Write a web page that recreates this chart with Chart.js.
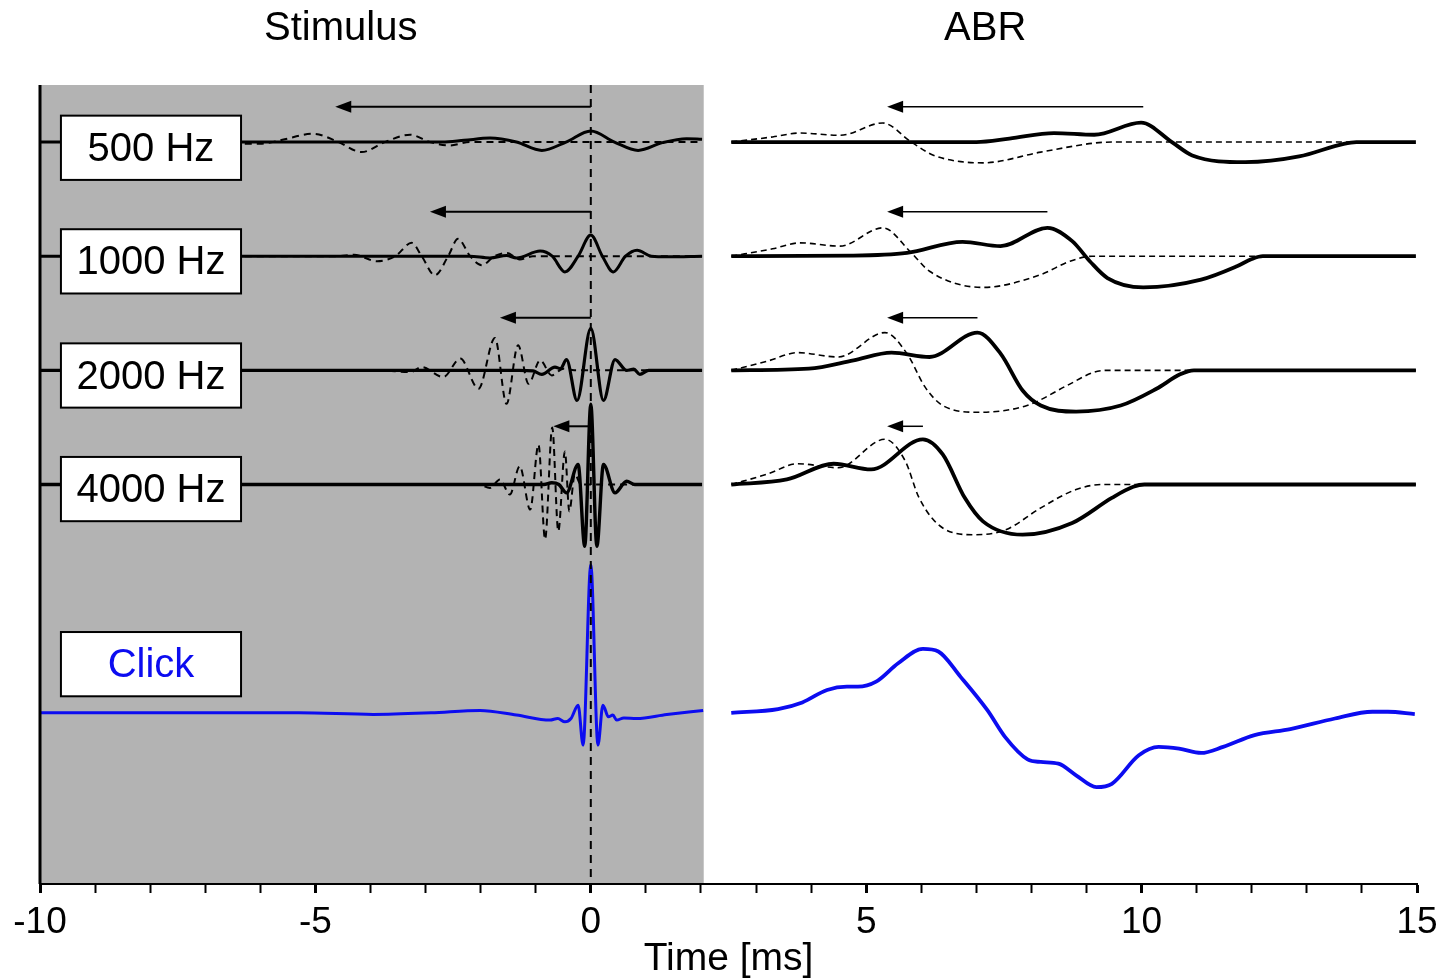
<!DOCTYPE html>
<html lang="en">
<head>
<meta charset="UTF-8">
<title>Stimulus and ABR</title>
<script src="https://cdn.jsdelivr.net/npm/chart.js"></script>
<style>
    body { margin: 0; background: #fff; }
    canvas { display: block; }
</style>
</head>
<body>
<canvas id="abrChart" width="1444" height="979"></canvas>
<script>
// rows, top to bottom
var traceLabels = ['500 Hz', '1000 Hz', '2000 Hz', '4000 Hz', 'Click'];
var baselines = [65, 55, 45, 35, 15];

// stimulus waveforms: time [ms] and amplitude (solid = tone burst, dashed = shifted)
var stimTime500 = [-10, -2.7, -2.3, -1.83, -1.35, -0.89, -0.45, 0, 0.43, 0.86, 1.3, 1.74, 2.02];
var stim500 = [0, 0, 0.15, 0.35, 0, -0.73, 0, 0.97, 0, -0.73, -0.05, 0.3, 0.25];
var stimTime1000 = [-10, -2.2, -1.83, -1.53, -1.35, -0.92, -0.7, -0.47, -0.23, 0, 0.21, 0.41, 0.63, 0.84, 1.1, 1.4, 2.02];
var stim1000 = [0, 0, -0.15, 0.06, -0.15, 0.45, 0, -1.38, 0, 1.85, 0, -1.38, 0, 0.53, 0, -0.05, 0];
var stimTime2000 = [-10, -1.3, -1.05, -0.89, -0.65, -0.55, -0.44, -0.25, 0, 0.23, 0.44, 0.65, 0.78, 0.89, 1.05, 2.02];
var stim2000 = [0, 0, -0.05, -0.35, 0.29, 0.15, 0.94, -2.64, 3.67, -2.64, 0.94, 0, 0.1, -0.35, 0, 0];
var stimTime4000 = [-10, -0.85, -0.71, -0.58, -0.44, -0.23, -0.11, 0, 0.11, 0.23, 0.44, 0.65, 0.8, 2.02];
var stim4000 = [0, 0, 0.15, 0, -0.73, 1.76, -5.42, 7.03, -5.42, 1.76, -0.73, 0.29, 0, 0];

var stimShiftTime500 = [-6.5, -6.0, -5.6, -5.04, -4.58, -4.16, -3.74, -3.28, -2.92, -2.56, -2.2, 2.02];
var stimShift500 = [-0.15, -0.15, 0.2, 0.73, 0, -0.88, 0, 0.64, 0, -0.3, 0, 0];
var stimShiftTime1000 = [-6.5, -4.6, -4.3, -3.88, -3.55, -3.25, -3.07, -2.83, -2.59, -2.41, -2.19, -1.98, -1.75, -1.52, -1.29, -1.05, 2.02];
var stimShift1000 = [0, 0, 0.12, -0.44, 0, 1.17, 0, -1.67, 0, 1.52, 0, -0.79, 0, 0.29, -0.29, 0, 0];
var stimShiftTime2000 = [-6.5, -3.83, -3.28, -3.07, -2.68, -2.37, -2.04, -1.74, -1.53, -1.32, -1.13, -0.92, -0.71, -0.5, -0.3, 2.02];
var stimShift2000 = [0, 0, -0.15, 0.29, -0.59, 1.03, -1.61, 2.84, -2.93, 2.2, -1.17, 0.88, -0.44, 0.15, 0, 0];
var stimShiftTime4000 = [-6.5, -2.05, -1.83, -1.65, -1.47, -1.29, -1.1, -0.95, -0.83, -0.7, -0.59, -0.47, -0.39, -0.29, -0.18, 2.02];
var stimShift4000 = [0, 0, -0.3, 0.44, -0.88, 1.6, -2.2, 3.5, -4.8, 5.0, -4.1, 2.9, -2.35, 0.9, 0, 0];

var clickTime = [-10, -5.3, -3.95, -2.9, -2.01, -1.35, -0.74, -0.6, -0.47, -0.36, -0.23, -0.14, 0, 0.13, 0.22, 0.32, 0.4, 0.47, 0.6, 0.83, 1.38, 2.04];
var click = [0, 0, -0.14, 0, 0.21, -0.2, -0.64, -0.5, -0.79, -0.5, 0.67, -2.84, 12.97, -2.84, 0.67, -0.35, -0.2, -0.64, -0.45, -0.5, -0.15, 0.21];

// ABR waveforms
var abrTime500 = [2.55, 7.0, 7.6, 8.41, 9.14, 9.99, 10.55, 10.92, 11.88, 12.86, 13.67, 13.9, 14.98];
var abr500 = [0, 0, 0.3, 0.79, 0.64, 1.7, 0, -1.17, -1.76, -1.26, -0.15, 0, 0];
var abrTime1000 = [2.55, 4.77, 5.74, 6.75, 7.44, 8.29, 8.74, 9.06, 9.38, 10.03, 11.08, 11.73, 12.0, 12.2, 14.98];
var abr1000 = [0, 0.05, 0.29, 1.26, 0.88, 2.49, 1.32, -0.44, -1.91, -2.73, -2.05, -0.88, -0.25, 0, 0];
var abrTime2000 = [2.55, 3.96, 4.77, 5.46, 6.15, 7.02, 7.44, 7.84, 8.17, 8.81, 9.62, 10.27, 10.7, 10.95, 14.98];
var abr2000 = [0, 0.15, 0.88, 1.55, 1.17, 3.31, 1.47, -1.76, -3.08, -3.61, -3.08, -1.61, -0.35, 0, 0];
var abrTime4000 = [2.55, 3.56, 4.41, 5.09, 6.03, 6.39, 6.79, 7.12, 7.84, 8.74, 9.46, 9.85, 10.05, 14.98];
var abr4000 = [0, 0.44, 1.82, 1.32, 3.96, 2.64, -1.17, -3.23, -4.4, -3.37, -1.17, -0.2, 0, 0];

var abrShiftTime500 = [2.55, 3.3, 3.8, 4.52, 5.3, 5.82, 6.23, 7.12, 8.17, 9.14, 9.46, 14.98];
var abrShift500 = [0, 0.45, 0.79, 0.59, 1.67, 0, -1.17, -1.82, -0.88, -0.09, 0, 0];
var abrShiftTime1000 = [2.55, 3.3, 3.8, 4.52, 5.3, 5.82, 6.15, 7.12, 8.17, 8.7, 9.1, 14.98];
var abrShift1000 = [0, 0.65, 1.17, 0.88, 2.49, 0.29, -1.32, -2.73, -1.61, -0.44, 0, 0];
var abrShiftTime2000 = [2.55, 3.2, 3.76, 4.49, 5.34, 5.74, 6.07, 6.39, 7.03, 7.92, 8.65, 9.14, 9.38, 14.98];
var abrShift2000 = [0, 0.8, 1.55, 1.17, 3.31, 1.47, -1.47, -3.08, -3.67, -3.08, -1.32, -0.15, 0, 0];
var abrShiftTime4000 = [2.55, 3.2, 3.76, 4.49, 5.34, 5.71, 5.96, 6.39, 6.95, 7.52, 8.17, 8.81, 9.3, 14.98];
var abrShift4000 = [0, 0.9, 1.82, 1.47, 3.96, 2.05, -1.17, -3.81, -4.4, -4.0, -2.05, -0.44, 0, 0];

var abrClickTime = [2.55, 3.4, 3.84, 4.29, 4.65, 4.85, 5.18, 5.58, 6.03, 6.31, 6.71, 7.2, 7.52, 7.93, 8.17, 8.49, 8.81, 9.18, 9.46, 9.95, 10.31, 10.68, 11.08, 11.48, 12.05, 12.7, 13.51, 14.19, 14.47, 14.96];
var abrClick = [0, 0.33, 0.91, 2.0, 2.29, 2.29, 2.73, 4.34, 5.6, 5.37, 3.17, 0.23, -2.11, -4.08, -4.31, -4.46, -5.48, -6.51, -6.22, -3.72, -2.99, -3.14, -3.52, -2.99, -1.96, -1.43, -0.5, 0.09, 0.09, -0.12];

// latency shift arrows (ms)
var arrowLevels = [68.1, 58.9, 49.6, 40.1];
var stimArrowHeads = [-4.64, -2.92, -1.65, -0.68];
var abrArrowTails = [10.03, 8.29, 7.02, 6.03];
var abrArrowHead = 5.38;

var xTicksMajor = [-10, -5, 0, 5, 10, 15];
var shadeEnd = 2.05;
var labelBoxLevels = [64.5, 54.55, 44.55, 34.6, 19.26];

var BLUE = '#0c0cf0';
var FONT = '"Liberation Sans", Arial, sans-serif';

function trace(times, values, row, color, width, dash) {
    return {
        data: times.map(function(t, i) { return { x: t, y: baselines[row] + values[i] }; }),
        borderColor: color,
        borderWidth: width,
        borderDash: dash || [],
        pointRadius: 0,
        fill: false,
        cubicInterpolationMode: 'monotone'
    };
}

var datasets = [
    trace(stimShiftTime500, stimShift500, 0, '#000', 2, [7, 5]),
    trace(stimShiftTime1000, stimShift1000, 1, '#000', 2, [7, 5]),
    trace(stimShiftTime2000, stimShift2000, 2, '#000', 2, [7, 5]),
    trace(stimShiftTime4000, stimShift4000, 3, '#000', 2, [7, 5]),
    trace(stimTime500, stim500, 0, '#000', 3),
    trace(stimTime1000, stim1000, 1, '#000', 3),
    trace(stimTime2000, stim2000, 2, '#000', 3.2),
    trace(stimTime4000, stim4000, 3, '#000', 3.4),
    trace(clickTime, click, 4, BLUE, 3),
    trace(abrShiftTime500, abrShift500, 0, '#000', 1.6, [6, 4]),
    trace(abrShiftTime1000, abrShift1000, 1, '#000', 1.6, [6, 4]),
    trace(abrShiftTime2000, abrShift2000, 2, '#000', 1.6, [6, 4]),
    trace(abrShiftTime4000, abrShift4000, 3, '#000', 1.6, [6, 4]),
    trace(abrTime500, abr500, 0, '#000', 3.8),
    trace(abrTime1000, abr1000, 1, '#000', 3.8),
    trace(abrTime2000, abr2000, 2, '#000', 3.8),
    trace(abrTime4000, abr4000, 3, '#000', 3.8),
    trace(abrClickTime, abrClick, 4, BLUE, 3.8)
];

function arrow(ctx, xTail, xHead, y, width) {
    ctx.lineWidth = width;
    ctx.beginPath();
    ctx.moveTo(xTail, y);
    ctx.lineTo(xHead + 10, y);
    ctx.stroke();
    ctx.beginPath();
    ctx.moveTo(xHead, y);
    ctx.lineTo(xHead + 16, y - 6);
    ctx.lineTo(xHead + 16, y + 6);
    ctx.closePath();
    ctx.fill();
}

var decorations = {
    id: 'decorations',
    beforeDraw: function(chart) {
        var ctx = chart.ctx, a = chart.chartArea, x = chart.scales.x;
        ctx.save();
        ctx.fillStyle = '#fff';
        ctx.fillRect(0, 0, chart.width, chart.height);
        var x0 = x.getPixelForValue(-10);
        ctx.fillStyle = '#b3b3b3';
        ctx.fillRect(x0, a.top, x.getPixelForValue(shadeEnd) - x0, a.bottom - a.top);
        ctx.restore();
    },
    afterDatasetsDraw: function(chart) {
        var ctx = chart.ctx, a = chart.chartArea, x = chart.scales.x, y = chart.scales.y;
        ctx.save();

        // onset line at 0 ms
        ctx.strokeStyle = '#000';
        ctx.lineWidth = 2;
        ctx.setLineDash([8, 6]);
        ctx.beginPath();
        ctx.moveTo(x.getPixelForValue(0), a.top);
        ctx.lineTo(x.getPixelForValue(0), a.bottom);
        ctx.stroke();
        ctx.setLineDash([]);

        // arrows
        ctx.fillStyle = '#000';
        arrowLevels.forEach(function(level, i) {
            var py = y.getPixelForValue(level);
            arrow(ctx, x.getPixelForValue(0), x.getPixelForValue(stimArrowHeads[i]), py, 2);
            arrow(ctx, x.getPixelForValue(abrArrowTails[i]), x.getPixelForValue(abrArrowHead), py, 1.5);
        });

        // label boxes
        var bx0 = x.getPixelForValue(-9.62), bx1 = x.getPixelForValue(-6.35);
        var bh = y.getPixelForValue(0) - y.getPixelForValue(5.63);
        ctx.font = '40px ' + FONT;
        ctx.textAlign = 'center';
        ctx.textBaseline = 'middle';
        traceLabels.forEach(function(label, i) {
            var cy = y.getPixelForValue(labelBoxLevels[i]);
            ctx.fillStyle = '#fff';
            ctx.fillRect(bx0, cy - bh / 2, bx1 - bx0, bh);
            ctx.strokeStyle = '#000';
            ctx.lineWidth = 2;
            ctx.strokeRect(bx0, cy - bh / 2, bx1 - bx0, bh);
            ctx.fillStyle = label === 'Click' ? BLUE : '#000';
            ctx.fillText(label, (bx0 + bx1) / 2, cy + 2);
        });

        // left axis line
        ctx.strokeStyle = '#000';
        ctx.lineWidth = 3;
        ctx.beginPath();
        ctx.moveTo(a.left, a.top);
        ctx.lineTo(a.left, a.bottom);
        ctx.stroke();

        // panel titles
        ctx.fillStyle = '#000';
        ctx.font = '40px ' + FONT;
        ctx.fillText('Stimulus', x.getPixelForValue(-4.54), a.top - 56);
        ctx.fillText('ABR', x.getPixelForValue(7.16), a.top - 56);
        ctx.restore();
    }
};

var ctx = document.getElementById('abrChart').getContext('2d');
var chart = new Chart(ctx, {
    type: 'line',
    data: { datasets: datasets },
    options: {
        responsive: false,
        animation: false,
        devicePixelRatio: 1,
        layout: { padding: { left: 40, right: 27, top: 85, bottom: 0 } },
        plugins: {
            legend: { display: false },
            tooltip: { enabled: false }
        },
        scales: {
            x: {
                type: 'linear',
                min: -10,
                max: 15,
                afterFit: function(scale) {
                    scale.paddingLeft = 0;
                    scale.paddingRight = 0;
                },
                border: { display: true, color: '#000', width: 2 },
                grid: {
                    drawOnChartArea: false,
                    drawTicks: true,
                    tickLength: 9,
                    color: '#000',
                    tickWidth: function(c) { return xTicksMajor.indexOf(c.tick.value) >= 0 ? 3 : 2; }
                },
                ticks: {
                    stepSize: 1,
                    autoSkip: false,
                    maxRotation: 0,
                    padding: 11,
                    color: '#000',
                    font: { family: FONT, size: 37, lineHeight: 1 },
                    callback: function(v) { return xTicksMajor.indexOf(v) >= 0 ? String(v) : ''; }
                },
                title: {
                    display: true,
                    text: 'Time [ms]',
                    color: '#000',
                    font: { family: FONT, size: 39, lineHeight: 1 },
                    padding: { top: -12, bottom: 0 }
                }
            },
            y: {
                type: 'linear',
                min: 0,
                max: 70,
                display: false
            }
        }
    },
    plugins: [decorations]
});
</script>
</body>
</html>
